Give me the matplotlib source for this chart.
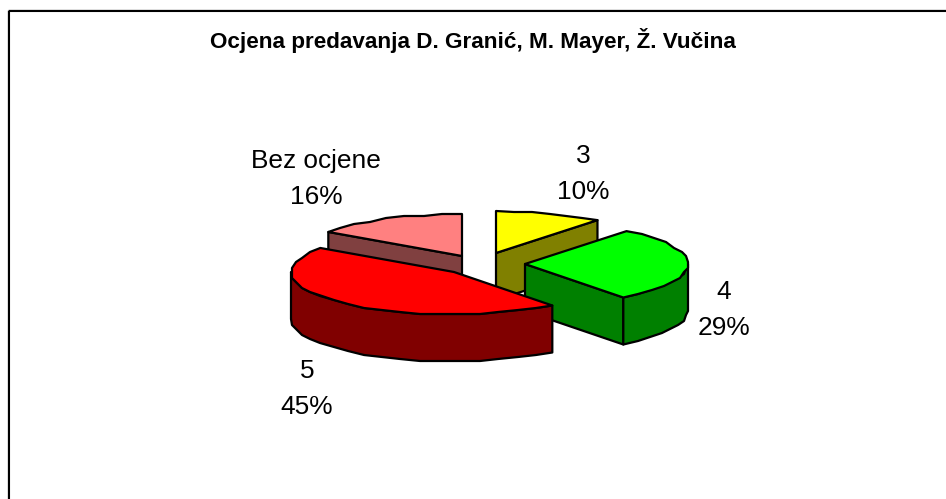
"""Exploded 3D-look pie chart, drawn in pixel coordinates."""

import numpy as np
import matplotlib
matplotlib.use('Agg')
import matplotlib.pyplot as plt
from matplotlib.patches import Polygon, Rectangle

TITLE = 'Ocjena predavanja D. Granić, M. Mayer, Ž. Vučina'
categories = ['3', '4', '5', 'Bez ocjene']
values = [10, 29, 45, 16]

top_colors = ['#FFFF00', '#00FF00', '#FF0000', '#FF8080']
side_colors = ['#808000', '#008000', '#800000', '#804040']
# where each exploded slice has its tip, in pixels
centers = [(496, 253), (525, 264), (454, 272), (462, 256)]
label_pos = [(583, 174), (724, 310), (307, 389), (316, 179)]
draw_order = [3, 0, 1, 2]

RX, RY = 163, 42
DEPTH = 47
STEP = 7
GRID = 2  # snapping arcs to this gives the bumpy outline of the reference
TWIST = 2.5  # inner cuts sit a little further round than the exact percentages

plt.rcParams['font.family'] = ['Liberation Sans', 'DejaVu Sans']


def ellipse(center, degrees):
    # clockwise from 12 o'clock, y pointing down
    a = np.radians(degrees)
    return np.column_stack((center[0] + RX * np.sin(a), center[1] - RY * np.cos(a)))


def arc(center, start, end):
    n = max(int(round((end - start) / STEP)), 1)
    pts = ellipse(center, np.linspace(start, end, n + 1))
    pts[1:-1] = np.round(pts[1:-1] / GRID) * GRID
    return pts


def add_poly(ax, pts, color):
    ax.add_patch(Polygon(pts, closed=True, facecolor=color, edgecolor='black',
                         linewidth=1.6, joinstyle='round'))


fig = plt.figure(figsize=(9.46, 4.99), dpi=100)
ax = fig.add_axes([0, 0, 1, 1])
ax.set_xlim(0, 946)
ax.set_ylim(499, 0)
ax.axis('off')

# chart area frame runs off the right and bottom of the picture
ax.add_patch(Rectangle((7.5, 9.5), 960, 520, fill=False, edgecolor='#888888', linewidth=1))
ax.add_patch(Rectangle((8.8, 10.8), 960, 520, fill=False, edgecolor='black', linewidth=1.5))

ends = np.cumsum(values) / np.sum(values) * 360
ends[:-1] += TWIST
starts = np.concatenate(([0], ends[:-1]))

for i in draw_order:
    c = np.array(centers[i], dtype=float)
    s, e = starts[i], ends[i]
    down = np.array([0, DEPTH])

    # flat cut faces that look towards the viewer
    if s > 180:
        tip = ellipse(c, [s])[0]
        add_poly(ax, [c, tip, tip + down, c + down], side_colors[i])
    if e <= 180:
        tip = ellipse(c, [e])[0]
        add_poly(ax, [c, tip, tip + down, c + down], side_colors[i])

    # curved rim, only the front half of the ellipse shows
    lo, hi = max(s, 90), min(e, 270)
    if hi > lo:
        rim = arc(c, lo, hi)
        add_poly(ax, np.vstack((rim, rim[::-1] + down)), side_colors[i])

    add_poly(ax, np.vstack((c, arc(c, s, e))), top_colors[i])

for cat, val, (x, y) in zip(categories, values, label_pos):
    ax.text(x, y, f'{cat}\n{val}%', ha='center', va='center', fontsize=18.9,
            linespacing=1.6, color='black')

ax.text(473, 40, TITLE, ha='center', va='center', fontsize=16.2, fontweight='bold',
        color='black')

fig.savefig('out.png', dpi=100)
